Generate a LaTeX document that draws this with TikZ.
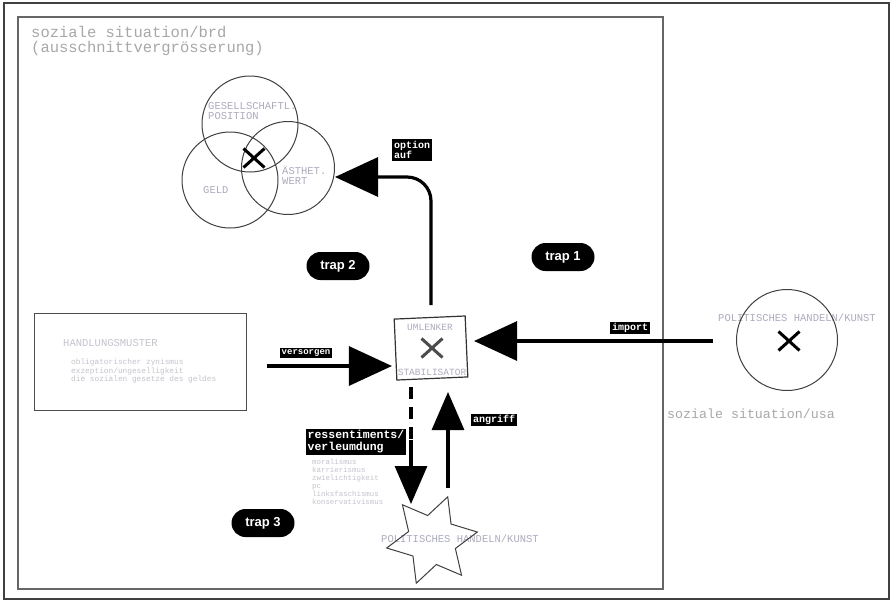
\documentclass[tikz,border=0pt]{standalone}
\usepackage{fontspec}
\setmainfont{Liberation Serif}
\setsansfont{Liberation Sans}
\setmonofont{Liberation Mono}
\usetikzlibrary{arrows.meta,shapes.geometric,shapes.misc}
\definecolor{ltgray}{RGB}{168,168,168}
\definecolor{vgray}{RGB}{172,172,190}
\definecolor{fgray}{RGB}{195,195,205}
\begin{document}
\begin{tikzpicture}[x=1pt,y=-1pt,
  frame/.style={draw=black!75, line width=1.3pt},
  ring/.style={circle, draw=black!75, line width=1pt, inner sep=0pt},
  gtext/.style={text=vgray, font=\ttfamily\fontsize{10.5}{10}\selectfont, inner sep=0pt, align=left},
  tiny/.style={text=fgray, font=\ttfamily\fontsize{7.8}{8.2}\selectfont, align=left, inner sep=0pt},
  ttl/.style={anchor=base west, text=ltgray, font=\ttfamily\fontsize{15.5}{14}\selectfont, inner sep=0pt},
  tag/.style={fill=black, text=white, font=\ttfamily\bfseries\fontsize{10}{10.5}\selectfont, align=left, inner sep=1.6pt},
  trap/.style={fill=black, text=white, font=\sffamily\bfseries\fontsize{13}{13}\selectfont, rounded rectangle, minimum width=63pt, minimum height=28pt, inner sep=0pt},
  xcross/.style={cross out, draw=black, line width=3pt, minimum width=18pt, minimum height=16pt, inner sep=0pt},
  harrow/.style={line width=3.2pt, -{Triangle[length=43pt,width=39pt]}},
  varrow/.style={line width=3.2pt, -{Triangle[length=38pt,width=32pt]}},
]
\useasboundingbox (0,0) rectangle (893,606);
\fill[white] (0,0) rectangle (893,606);
% frames
\draw[frame] (4,3) rectangle (889,599);
\draw[draw=black!60, line width=1.1pt] (18,17) rectangle (663,589);
\node[ttl] (title1) at (31,37) {soziale situation/brd};
\node[ttl] (title2) at (31,52) {(ausschnittvergrösserung)};

% venn
\node[gtext, anchor=north west] (tpos) at (208,102) {GESELLSCHAFTL.\\POSITION};
\node[gtext, anchor=west] (tgeld) at (203,190) {GELD};
\node[gtext, anchor=north west] (twert) at (282,166) {ÄSTHET.\\WERT};
\node[ring, minimum size=96pt] (c1) at (250,124) {};
\node[ring, minimum size=96pt] (c2) at (230,180) {};
\node[ring, minimum size=93pt] (c3) at (288,168) {};
\node[xcross] (x1) at (254,158) {};

% umlenker
\node[draw=black!80, line width=1.2pt, minimum width=71pt, minimum height=61pt, rotate=2.5, fill=white] (umlenker) at (431,348) {};
\node[gtext, font=\ttfamily\fontsize{9.5}{10}\selectfont] (tuml) at (430,327) {UMLENKER};
\node[gtext, font=\ttfamily\fontsize{9.5}{10}\selectfont] (tstab) at (432,372) {STABILISATOR};
\node[xcross, draw=black!70, minimum width=18pt, minimum height=16pt] (x2) at (432,348) {};

% handlungsmuster
\node[draw=black!70, line width=1pt, minimum width=212pt, minimum height=97pt, inner sep=0pt] (hbox) at (140,361.5) {};
\node[gtext, text=fgray, anchor=west] (thand) at (63,343) {HANDLUNGSMUSTER};
\node[tiny, anchor=north west] (tlist1) at (71,359) {obligatorischer zynismus\\exzeption/ungeselligkeit\\die sozialen gesetze des geldes};

% usa
\node[gtext, anchor=center] (tusa) at (797,318) {POLITISCHES HANDELN/KUNST};
\node[ring, minimum size=101pt] (usa) at (787,340) {};
\node[xcross] (x3) at (789,341) {};
\node[anchor=west, text=ltgray, font=\ttfamily\fontsize{13.3}{13}\selectfont, inner sep=0pt] (tusa2) at (667,414) {soziale situation/usa};

% star
\node[gtext] (tstar) at (460,539) {POLITISCHES HANDELN/KUNST};
\node[star, star points=6, star point ratio=1.85, minimum size=92pt, inner sep=0pt, draw=black!75, line width=1pt, shape border rotate=-20] (star) at (432,540) {};

% arrows
\coordinate (opt0) at (431,305);
\coordinate (opt1) at (335,177);
\draw[harrow, rounded corners=24pt] (opt0) |- (opt1);
\node[tag] (lopt) at (412,150) {option\\auf};

\coordinate (imp0) at (713,341);
\draw[harrow, shorten >=7pt] (imp0) -- (imp0 -| umlenker.east);
\node[tag] (limp) at (630,328) {import};

\coordinate (ver0) at (267,366);
\draw[harrow, shorten >=3pt] (ver0) -- (ver0 -| umlenker.west);
\node[tag, font=\ttfamily\bfseries\fontsize{9}{9}\selectfont] (lver) at (306,353) {versorgen};

\coordinate (d0) at (411,387);
\coordinate (d1) at (411,440);
\coordinate (d2) at (411,504);
\draw[line width=3.2pt, dash pattern=on 12pt off 8pt] (d0) -- (d1);
\draw[varrow] (d1) -- (d2);

\coordinate (a0) at (448,488);
\coordinate (a1) at (448,392);
\draw[varrow] (a0) -- (a1);
\node[tag] (lang) at (494,420) {angriff};

\node[tag, font=\ttfamily\bfseries\fontsize{11.5}{12}\selectfont] (lres) at (356,442) {ressentiments/\\verleumdung};
\node[tiny, font=\ttfamily\fontsize{7.4}{8}\selectfont, anchor=north west] (tlist2) at (312,459) {moralismus\\karrierismus\\zwielichtigkeit\\pc\\linksfaschismus\\konservativismus};

% traps
\node[trap] (trap1) at (563,257) {trap 1};
\node[trap] (trap2) at (338,266) {trap 2};
\node[trap] (trap3) at (263,523) {trap 3};
\end{tikzpicture}
\end{document}
